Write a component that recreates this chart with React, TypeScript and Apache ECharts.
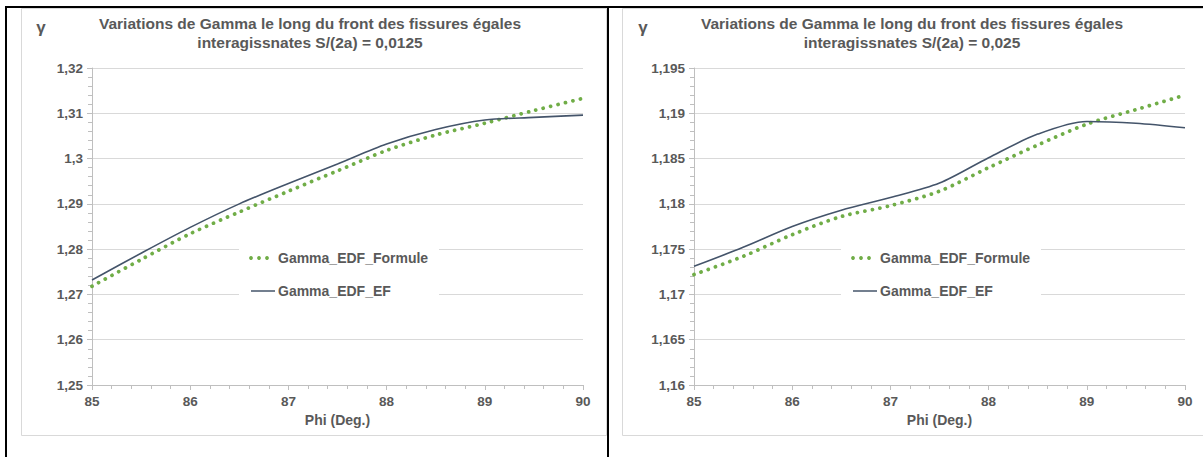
import React, { useEffect, useRef } from "react";
import * as echarts from "echarts";

// Phi (deg.)
const phi = [85, 85.5, 86, 86.5, 87, 87.5, 88, 88.5, 89, 89.5, 90];

// Chart 1 : S/(2a) = 0,0125
const formule1 = [1.2718, 1.2777, 1.2834, 1.2882, 1.2928, 1.2973, 1.3018, 1.3052, 1.3078, 1.3106, 1.3133];
const ef1 = [1.2732, 1.2791, 1.2848, 1.2900, 1.2945, 1.2988, 1.3032, 1.3064, 1.3085, 1.3091, 1.3096];

// Chart 2 : S/(2a) = 0,025
const formule2 = [1.1722, 1.1742, 1.1766, 1.1786, 1.1798, 1.1814, 1.1840, 1.1865, 1.1888, 1.1904, 1.1920];
const ef2 = [1.1731, 1.1752, 1.1775, 1.1793, 1.1807, 1.1823, 1.1851, 1.1877, 1.1891, 1.1889, 1.1884];

const titles1 = ["Variations de Gamma le long du front des fissures égales", "interagissnates S/(2a) = 0,0125"];
const titles2 = ["Variations de Gamma le long du front des fissures égales", "interagissnates S/(2a) = 0,025"];
const seriesNames = ["Gamma_EDF_Formule", "Gamma_EDF_EF"];
const xName = "Phi (Deg.)";
const yName = "γ";

const yRange1 = { min: 1.25, max: 1.32, interval: 0.01 };
const yRange2 = { min: 1.16, max: 1.195, interval: 0.005 };
const xRange = { min: 85, max: 90, interval: 1 };

const FONT = "'Liberation Sans', Arial, sans-serif";
const TXT = "#595959";
const GREEN = "#70ad47";
const NAVY = "#44546a";

const fmt = (v: number) => String(parseFloat(v.toFixed(4))).replace(".", ",");

export default function App() {
  const ref = useRef<HTMLDivElement>(null);
  useEffect(() => {
    if (!ref.current) return;
    const chart = echarts.init(ref.current, null, { renderer: "svg" });

    const panels = [
      { left: 92, titleX: 310, gammaX: 41, legendX: 239, y: yRange1, titles: titles1, f: formule1, e: ef1 },
      { left: 694, titleX: 912, gammaX: 643, legendX: 841, y: yRange2, titles: titles2, f: formule2, e: ef2 },
    ];
    const plotW = 491;
    const plotTop = 68;
    const plotH = 317;

    const graphics: any[] = [
      // frames
      { type: "rect", shape: { x: 21.5, y: 8.5, width: 585, height: 427 }, style: { fill: "none", stroke: "#d9d9d9", lineWidth: 1 }, z: 1 },
      { type: "rect", shape: { x: 622.5, y: 8.5, width: 600, height: 427 }, style: { fill: "none", stroke: "#d9d9d9", lineWidth: 1 }, z: 1 },
      { type: "line", shape: { x1: 6, y1: 7, x2: 1203, y2: 7 }, style: { stroke: "#000", lineWidth: 2 }, z: 50 },
      { type: "line", shape: { x1: 6, y1: 6, x2: 6, y2: 457 }, style: { stroke: "#000", lineWidth: 2 }, z: 50 },
      { type: "line", shape: { x1: 608, y1: 6, x2: 608, y2: 457 }, style: { stroke: "#000", lineWidth: 2 }, z: 50 },
    ];

    panels.forEach((p) => {
      graphics.push(
        { type: "text", x: p.titleX, y: 23, style: { text: p.titles[0], font: `bold 15.5px ${FONT}`, fill: TXT, align: "center", verticalAlign: "middle" }, z: 10 },
        { type: "text", x: p.titleX, y: 42, style: { text: p.titles[1], font: `bold 15.5px ${FONT}`, fill: TXT, align: "center", verticalAlign: "middle" }, z: 10 },
        { type: "text", x: p.gammaX, y: 27, style: { text: yName, font: `bold 17px ${FONT}`, fill: TXT, align: "center", verticalAlign: "middle" }, z: 10 },
        { type: "rect", shape: { x: p.legendX, y: 245, width: 200, height: 53 }, style: { fill: "#fff" }, z: 20 },
        { type: "circle", shape: { cx: p.legendX + 12, cy: 258, r: 1.9 }, style: { fill: GREEN }, z: 21 },
        { type: "circle", shape: { cx: p.legendX + 20, cy: 258, r: 1.9 }, style: { fill: GREEN }, z: 21 },
        { type: "circle", shape: { cx: p.legendX + 28, cy: 258, r: 1.9 }, style: { fill: GREEN }, z: 21 },
        { type: "text", x: p.legendX + 39, y: 258, style: { text: seriesNames[0], font: `bold 14px ${FONT}`, fill: TXT, align: "left", verticalAlign: "middle" }, z: 21 },
        { type: "line", shape: { x1: p.legendX + 12, y1: 291, x2: p.legendX + 36, y2: 291 }, style: { stroke: NAVY, lineWidth: 1.5 }, z: 21 },
        { type: "text", x: p.legendX + 39, y: 291, style: { text: seriesNames[1], font: `bold 14px ${FONT}`, fill: TXT, align: "left", verticalAlign: "middle" }, z: 21 }
      );
    });

    const axisCommon = {
      axisLine: { show: true, lineStyle: { color: "#bfbfbf", width: 1 } },
      axisTick: { show: true, length: 5, lineStyle: { color: "#bfbfbf" } },
      minorTick: { show: true, splitNumber: 5, length: 4, lineStyle: { color: "#bfbfbf" } },
      axisLabel: { color: TXT, fontFamily: FONT, fontWeight: "bold", fontSize: 13.5, margin: 9, formatter: fmt },
    };

    chart.setOption({
      animation: false,
      backgroundColor: "#fff",
      grid: panels.map((p) => ({ left: p.left, top: plotTop, width: plotW, height: plotH, containLabel: false })),
      xAxis: panels.map((p, i) => ({
        type: "value",
        gridIndex: i,
        min: xRange.min,
        max: xRange.max,
        interval: xRange.interval,
        name: xName,
        nameLocation: "middle",
        nameGap: 27,
        nameTextStyle: { color: TXT, fontFamily: FONT, fontWeight: "bold", fontSize: 14 },
        splitLine: { show: false },
        ...axisCommon,
      })),
      yAxis: panels.map((p, i) => ({
        type: "value",
        gridIndex: i,
        min: p.y.min,
        max: p.y.max,
        interval: p.y.interval,
        splitLine: { show: true, lineStyle: { color: "#d9d9d9", width: 1 } },
        ...axisCommon,
      })),
      series: panels.flatMap((p, i) => [
        {
          name: seriesNames[0],
          type: "line",
          xAxisIndex: i,
          yAxisIndex: i,
          data: phi.map((x, k) => [x, p.f[k]]),
          smooth: 0.3,
          showSymbol: false,
          symbol: "none",
          lineStyle: { color: GREEN, width: 3.8, type: [0.01, 7.6], cap: "round" },
          z: 3,
        },
        {
          name: seriesNames[1],
          type: "line",
          xAxisIndex: i,
          yAxisIndex: i,
          data: phi.map((x, k) => [x, p.e[k]]),
          smooth: 0.3,
          showSymbol: false,
          symbol: "none",
          lineStyle: { color: NAVY, width: 1.6 },
          z: 4,
        },
      ]),
      graphic: graphics,
    });

    return () => chart.dispose();
  }, []);

  return <div ref={ref} style={{ position: "absolute", left: 0, top: 0, width: 1203, height: 457 }} />;
}
